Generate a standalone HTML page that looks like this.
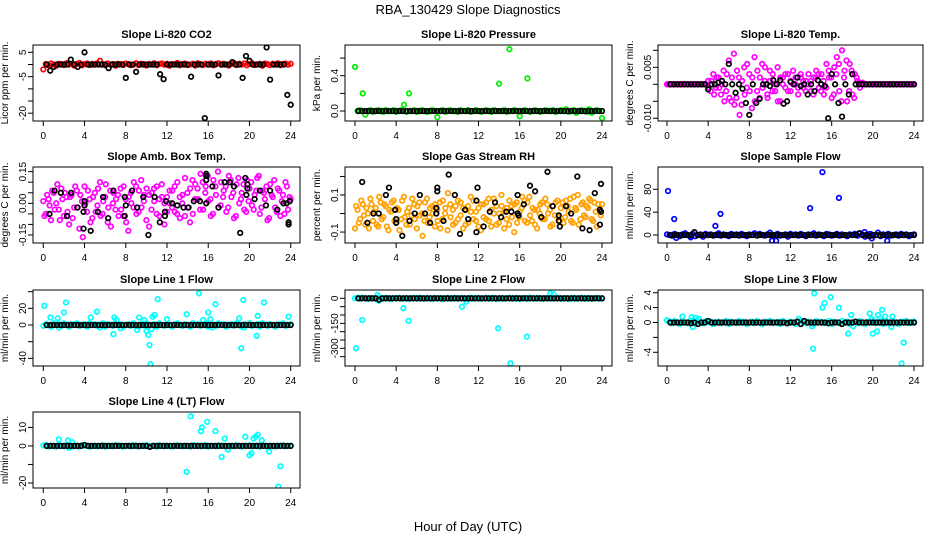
<!DOCTYPE html>
<html><head><meta charset="utf-8"><title>RBA_130429 Slope Diagnostics</title>
<style>
html,body{margin:0;padding:0;background:#fff;}
svg{display:block;font-family:"Liberation Sans",Arial,sans-serif;}
</style></head>
<body>
<svg id="chart" width="936" height="540" viewBox="0 0 936 540" xmlns="http://www.w3.org/2000/svg">
<rect x="0" y="0" width="936" height="540" fill="#fff"/>
<text x="468" y="14" text-anchor="middle" font-size="13">RBA_130429  Slope Diagnostics</text>
<text x="468" y="531" text-anchor="middle" font-size="13">Hour of Day (UTC)</text>
</svg>
<script>
// ---------- data (hours 0-24) ----------
const xTicks = [0,4,8,12,16,20,24];

// CO2 (ppm/min)
const co2Red = [-2,0.2,-0.3,0.4,0,-0.5,0.3,0.2,-0.2,0.5,0,0.3,-0.4,0.2,0.6,-0.3,0.1,0.4,-0.2,0.3,0,0.5,1.5,0.2,-0.3,0.4,0,0.2,-0.5,0.3,0.1,-0.2,0.4,0.2,-0.3,0,0.5,-0.2,0.3,0.1,-0.4,0.2,0,0.5,-0.3,0.2,0.4,-0.1,0.3,-0.5,0.2,0,0.6,-0.3,0.2,0.4,-0.2,0,0.3,-0.4,0.5,0.1,-0.2,0.3,0,0.4,-0.3,0.2,0.5,-0.1,0.3,0,-0.4,0.2,0.6,-0.2,0.3,0,0.4,-0.3,0.2,0.5,-0.2,0,0.3,-0.5,0.4,0.1,-0.2,0.3,0,0.5,-0.3,0.2,0.4,-0.1,0.3];
const co2Black = [0,-2.5,-1,0,0,0,0,2,0,-1,0,5, 0,0,0,0,0,0,-1.5,0,0,0,0,-5.5, 0,0,-3,0,0,0,0,0,0,-4,-6,0, 0,0,0,0,0,0,-5,0,0,0,-22,0, 0,0,-4.5,0,0,0,1,0,0,-5.5,3.5,1.5, 0,0,0,0,7,-6.2,0,0,0,0,-12.5,-16.5];

// Pressure (kPa/min)
const presGreen = [0.5,0,0.01,0.2,-0.04,0,0.01,-0.01,0,0.01, 0,-0.01,0.01,0,0,0.01,-0.01,0,0.01,0.07, -0.01,0.2,0,0.01,-0.01,0,0.01,0,-0.01,0, 0.01,0,-0.07,0,0.01,-0.01,0,0.01,0,0, -0.01,0.01,0,0,0.01,-0.01,0,0.01,0,-0.01, 0,0.01,0,-0.01,0.01,0,0.31,0,0.01,-0.01, 0.7,0,0.01,0,-0.06,0,0.01,0.37,-0.01,0, 0.01,0,-0.01,0,0.01,0,0,0.01,-0.01,0, 0.01,0,0.02,-0.01,0,0.01,-0.02,0,0.01,0, -0.01,0.02,-0.02,0,0.01,0,-0.08];
const presBlack = [0,0,0,0,0,0,0,0,0,0,0,0, 0,0,0,0,0,0,0,0,0,0,0,0, 0,0,0,0,0,0,0,0,0,0,0,0, 0,0,0,0,0,0,0,0,0,0,0,0, 0,0,0,0,0,0,0,0,0,0,0,0, 0,0,0,0,0,0,0,0,0,0,0,0];

// Li-820 temp (milli-degC/min)
const tempMagA = [0,0,0,0,0,0,0,0,0,0,0,0,0,0,0,0, 1,-2,3,-1,2,-3,4,-2,7,-5, 9,-4,2,-6,5,-1,3,-7,8,-2, -4,6,1,-3,4,-2,0,5,-5,2, -1,3,-2,4,0,-3,2,-1,1,3, -2,2,4,-1,3,-3,6,2,-4,5, 8,-2,10,4,-5,6,-3,3,1,-1,0.5, 0,0,0,0,0,0,0,0,0,0,0,0,0,0,0,0,0,0,0,0];
const tempMagB = [0,0,0,0,0,0,0,0,0,0,0,0,0,0,0,0, -1,1,-3,2,-1,0,-5,3,-4,2, -6,4,-9,1,-3,6,-2,2,-5,4, 2,-1,5,-4,1,3,-2,-5,2,0, 3,-2,1,0,2,-1,3,1,-2,0, 1,-3,2,3,-2,1,-1,4,2,-3, 3,6,-5,2,7,-2,4,-4,2,0.5,0, 0,0,0,0,0,0,0,0,0,0,0,0,0,0,0,0,0,0,0,0];
const tempBlack = [0,0,0,0,0,0,0,0,0,0,0,-1.5, 0,0,0.5,1,0,6,0,-2.5,0,-1.3,-5.5,-9, 0,-5.5,-4.3,0,0,-0.5,1.2,0,1.2,-5.7,-5,0.7, 0,2,-0.5,0,-3,0,-2,1.2,0,-0.5,-10,3, 0,-5.5,-9.5,0,-3,3,0,0,0,0,0,0, 0,0,0,0,0,0,0,0,0,0,0,0];

// Amb box temp (degC/min)
const ambMagA = [0.01,-0.05,0.02,-0.08,0.05,0.00,-0.03,0.07,-0.06,0.03, -0.10,0.04,-0.02,0.06,-0.12,0.01,0.08,-0.04,0.02,-0.07, 0.05,-0.01,0.10,-0.05,0.03,-0.09,0.06,0.00,-0.03,0.04, 0.07,-0.06,0.02,-0.13,0.05,-0.02,0.08,-0.04,0.11,0.01, -0.08,0.04,-0.03,0.07,-0.05,0.02,0.09,-0.10,0.03,0.00, 0.06,-0.04,0.10,-0.07,0.04,0.12,-0.02,0.07,-0.05,0.09, 0.02,0.14,-0.03,0.08,0.01,-0.06,0.11,0.04,-0.02,0.10, 0.06,-0.04,0.13,0.03,-0.07,0.09,0.00,0.05,-0.03,0.11, 0.07,-0.01,0.04,0.12,-0.05,0.06,0.02,-0.08,0.09,0.03, -0.02,0.07,-0.06,0.04,0.10,-0.03,0.02];
const ambMagB = [-0.06,0.04,-0.01,0.06,-0.03,0.09,-0.08,0.02,0.05,-0.04, 0.03,-0.07,0.08,-0.02,0.04,-0.16,0.00,0.06,-0.09,0.03, -0.04,0.07,-0.06,0.01,0.09,-0.02,-0.11,0.05,0.02,-0.06, -0.03,0.08,-0.09,0.03,0.00,0.10,-0.05,0.06,-0.02,0.04, 0.07,-0.11,0.05,0.01,0.08,-0.06,0.03,0.00,-0.04,0.06, -0.02,0.08,-0.05,0.03,0.00,-0.06,0.05,-0.09,0.11,0.02, 0.07,-0.03,0.10,0.05,0.13,0.02,-0.05,0.08,0.15,-0.01, 0.03,0.08,-0.02,0.11,0.05,-0.06,0.12,0.02,0.09,-0.04, 0.01,0.10,-0.03,0.06,0.13,-0.02,0.05,0.08,-0.07,0.04, 0.11,-0.04,0.06,0.01,-0.05,0.08,0.03];
const ambBlackX = [0.6,1.1,1.7,2.3,2.7,3.3,3.9,3.9,4.0,4.0,4.6,5.3,5.8,6.3,6.8,7.9,7.9,8.0,8.6,9.1,9.7,10.2,10.8,11.3,11.8,11.8,11.9,12.5,13.0,13.6,14.1,14.6,15.2,15.8,15.8,15.8,15.8,16.4,17.0,17.6,18.1,18.5,19.1,19.6,19.7,19.8,19.8,20.5,21.0,21.6,22.0,22.7,23.3,23.6,23.8,23.8,23.9];
const ambBlackY = [-0.05,0.06,0.05,-0.06,0.05,-0.02,-0.12,-0.04,-0.01,0.01,-0.13,-0.04,0.03,-0.07,0.06,0.03,-0.06,-0.01,0.06,-0.02,0.03,-0.15,0.03,-0.09,-0.06,-0.04,0.01,0,-0.01,-0.02,-0.02,0.01,0.01,0.14,0.13,0.11,0,0.08,-0.02,0.1,0.1,0.08,-0.14,0.12,0.04,0.09,0.07,0.02,0.06,-0.01,0.06,-0.03,0,0,-0.09,-0.1,0.01];

// Gas stream RH (%/min)
const rhCloudA = [-0.08,0.02,-0.03,0.05,-0.06,0.00,0.08,-0.04,0.03,-0.07, 0.06,-0.02,0.04,-0.09,0.01,0.07,-0.05,0.02,-0.03,0.09, -0.06,0.03,-0.01,0.05,-0.08,0.06,0.00,-0.04,0.08,-0.02, 0.04,-0.07,0.02,0.06,-0.03,0.00,-0.09,0.05,0.02,-0.05, 0.07,-0.01,0.03,-0.06,0.04,0.09,-0.03,0.01,-0.07,0.05, -0.02,0.06,-0.04,0.02,0.08,-0.06,0.00,0.04,-0.08,0.03, 0.07,-0.02,0.05,-0.05,0.01,0.09,-0.04,0.06,-0.01,0.03, -0.06,0.02,0.05,-0.03,0.08,0.00,-0.07,0.04,0.06,-0.02, 0.03,-0.05,0.07,0.01,-0.04,0.09,0.02,-0.06,0.05,-0.01, 0.04,0.08,-0.03,0.06,-0.07,0.02,0.05];
const rhCloudB = [0.04,-0.05,0.07,-0.01,0.03,-0.08,0.05,0.01,-0.06,0.09, -0.03,0.05,-0.07,0.02,0.06,-0.04,0.03,-0.09,0.07,-0.02, 0.01,-0.06,0.08,-0.03,0.04,-0.01,-0.12,0.06,-0.05,0.03, 0.00,0.05,-0.04,-0.08,0.07,0.03,0.11,-0.02,-0.06,0.04, -0.03,0.06,-0.08,0.02,-0.05,0.01,0.07,-0.04,0.03,-0.09, 0.05,-0.03,0.08,-0.07,0.00,0.04,-0.05,0.10,0.01,-0.03, -0.06,0.04,-0.10,0.06,-0.02,0.03,0.07,-0.05,0.09,-0.04, 0.02,-0.08,0.00,0.06,-0.03,0.05,0.02,-0.06,-0.01,0.07, -0.04,0.06,-0.02,0.04,0.08,-0.05,0.03,0.10,-0.03,0.06, -0.02,0.03,0.07,-0.04,0.01,0.05,-0.01];
const rhBlackX = [0.7,1.2,1.8,2.3,3.0,3.3,3.9,4.0,4.0,4.6,5.3,5.8,6.3,6.8,7.3,7.9,7.9,8.0,8.0,8.6,9.1,9.7,10.2,10.7,11.0,11.8,11.8,11.9,12.5,13.1,13.6,14.2,14.7,15.2,15.8,15.8,15.9,16.4,17.0,17.5,18.1,18.7,19.2,19.8,19.8,19.9,20.5,21.0,21.6,22.1,22.8,23.3,23.8,23.8,23.9,23.9];
const rhBlackY = [0.17,-0.05,0,0,0.1,0.14,0.02,-0.03,-0.05,-0.12,-0.04,0,0.1,0,-0.05,0,0.03,0.12,0.14,-0.04,0.21,0.1,-0.11,0.02,-0.03,-0.1,0.07,0.14,-0.07,0.01,0.06,-0.02,0.01,0.01,0.1,0,-0.01,0.05,0.15,0.12,-0.02,0.225,0.04,-0.01,-0.04,-0.07,0.04,0,0.2,-0.08,-0.09,0.11,-0.06,0.02,0.01,0.16];

// Sample flow (ml/min per min)
const sampleBlue = [1,0,-1,2,0,-2,1,3,0,-1, 2,-2,0,1,-3,2,0,1,-1,0, 3,-1,1,0,-2,2,0,1,-1,2, 0,-2,1,0,3,-1,2,0,-1,1, 4,-2,0,2,-1,0,1,-3,2,0, 1,-1,2,0,-2,1,0,3,-1,1, 0,-2,2,1,-1,0,2,-1,1,0, -2,1,0,2,-1,3,0,-3,1,2, -1,0,4,-2,1,0,2,-1,0,1, -1,2,0,1,-2,0,1];
const sampleOutX = [0.1,0.7,0.9,4.7,5.2,10.2,10.6,13.9,15.1,16.7,19.2,21.4,2.3,19.9];
const sampleOutY = [77,28,-5,16,37,-10,-10,47,110,65,5,-10,-4,-6];
const sampleBlack = [0,0,0,0,0,0,0,5,0,0,0,0, 0,0,0,0,0,0,0,0,0,0,0,0, 0,0,0,0,0,0,0,0,0,0,0,0, 0,0,0,0,0,0,0,0,0,0,0,0, 0,0,0,0,0,0,0,3,0,0,-2,0, 0,0,0,0,0,0,0,0,0,0,0,0];

// Line 1 flow
const line1Cyan = [-1,1,0,-2,2,0,1,-1,2,0, -2,1,0,2,-1,0,1,-2,2,0, 1,-1,0,2,-2,1,0,-1,2,0, 1,-2,0,1,-1,2,0,-2,1,0, 2,-1,0,1,-2,2,0,-1,1,0, -2,1,2,0,-1,1,0,-2,2,0, 1,-1,0,2,-2,1,0,-1,2,0, 1,-2,0,1,-1,2,0,-2,1,0, 2,-1,0,1,-2,2,0,-1,1,0, -2,1,0,2,-1,0,1];
const line1OutX = [0.1,0.7,1.4,1.5,2,2.2,4.6,5.2,5.5,6.8,6.9,7.1,7.5,9.1,9.3,9.8,10,10.2,10.4,10.5,10.6,10.8,11.1,12,13.9,15.1,15.5,16,16.2,16.4,16.7,19,19.2,19.4,19.5,20.7,20.8,21.4,23.8,10.3];
const line1OutY = [23,9,8,-3,15,27,9,16,-3,-11,9,6,-4,-6,9,6,-7,-12,-47,-5,10,12,31,7,13,38,6,15,7,-3,25,8,-28,30,-3,-13,11,27,10,-24];
const line1Black = [0,0,0,0,0,0,0,0,0,0,0,0, 0,0,0,0,0,0,0,0,0,0,0,0, 0,0,0,0,0,0,0,0,0,0,0,0, 0,0,0,0,0,0,0,0,0,0,0,0, 0,0,0,0,0,0,0,0,0,0,0,0, 0,0,0,0,0,0,0,0,0,0,0,0];

// Line 2 flow
const line2Cyan = [0,3,-2,5,0,-4,2,0,-3,4, 0,-2,3,0,-5,2,0,4,-3,0, 2,-4,0,3,-2,5,0,-3,2,0, -4,3,0,2,-5,0,3,-2,0,4, -3,0,2,-4,0,5,-2,0,3,-3, 0,4,-2,0,3,-5,0,2,-3,0, 4,-2,0,3,-4,0,2,-3,5,0, -2,3,0,-4,2,0,3,-2,0,4, -3,0,2,-5,0,3,-2,0,4,-3, 0,2,-4,0,3,-2,0];
const line2OutX = [0.1,0.7,4.7,5.2,10.4,10.8,13.9,15.1,16.7,19,19.3,2.2,2.3];
const line2OutY = [-300,-130,-60,-135,-50,-20,-180,-390,-230,30,25,20,-15];
const line2Black = [0,0,0,0,0,0,-8,0,0,0,0,0, 0,0,0,0,0,0,0,0,0,0,0,0, 0,0,0,0,0,0,0,0,0,0,0,0, 0,0,0,0,0,0,0,0,0,0,0,0, 0,0,0,0,0,0,0,0,0,0,0,0, 0,0,0,0,0,0,0,0,0,0,0,0];

// Line 3 flow
const line3Cyan = [0.3,0.1,-0.1,0.2,0,-0.2,0.1,0,-0.1,0.2, 0.3,-0.2,0.1,0,-0.1,0.2,0,0.1,-0.2,0, 0.1,-0.1,0,0.2,-0.2,0.1,0,-0.1,0.2,0, 0.1,-0.2,0,0.1,-0.1,0.2,0,-0.2,0.1,0, 0.2,-0.1,0,0.1,-0.2,0.2,0,-0.1,0.1,0, -0.2,0.1,0.2,0,-0.1,0.1,0,-0.2,0.2,0, 0.1,-0.1,0,0.2,-0.2,0.1,0,-0.1,0.2,0, 0.1,-0.2,0,0.1,-0.1,0.2,0,-0.2,0.1,0, 0.2,-0.1,0,0.1,-0.2,0.2,0,-0.1,0.1,0, -0.2,0.1,0,0.2,-0.1,0,0.1];
const line3OutX = [0,1.5,2.4,2.5,2.8,3.1,12.8,14.1,14.2,14.3,15.1,15.3,15.9,16.7,17.6,17.9,18.1,19.7,19.9,20,20.4,20.5,20.7,20.9,21.2,21.8,21.9,22.8,23];
const line3OutY = [0.3,0.8,0.7,-0.6,0.6,0.5,0.5,-0.5,-3.5,3.9,2,2.6,3.4,2,-1.5,1,-0.5,1.2,0.5,-1.5,-1.2,1,0.5,1.7,0.8,-0.6,0.8,-5.5,-2.7];
const line3Black = [0,0,0,0,0,0,-0.1,0,-0.2,0,0,0.2, 0,0,0,0,0,0,0,0,0,0,0,0, 0,0,0,0,0,0,0,0,0,0,-0.1,0, 0,0.1,-0.2,0.2,0,0,0,0,0,0,-0.1,0, 0,0,-0.2,0,0,0,0.1,0,0,0,0,0, 0,0,0,0,0,0,0,0,0,0,0,0];

// Line 4 (LT) flow
const line4Cyan = [0.3,0.5,-0.3,0.2,0,-0.5,0.4,0.2,-0.2,0.5, 0.6,-0.4,0.2,0,-0.3,0.4,0,0.2,-0.4,0, 0.2,-0.2,0,0.4,-0.4,0.2,0,-0.2,0.4,0, 0.2,-0.4,0,0.2,-0.2,0.4,0,-0.4,0.2,0, 0.4,-0.2,0,0.2,-0.4,0.4,0,-0.2,0.2,0, -0.4,0.2,0.4,0,-0.2,0.2,0,-0.4,0.4,0, 0.2,-0.2,0,0.4,-0.4,0.2,0,-0.2,0.4,0, 0.2,-0.4,0,0.2,-0.2,0.4,0,-0.4,0.2,0, 0.4,-0.2,0,0.2,-0.4,0.4,0,-0.2,0.2,0, -0.4,0.2,0,0.4,-0.2,0,0.2];
const line4OutX = [1.5,2.4,2.5,2.8,13.9,14.3,15.3,15.4,15.9,16.7,17.3,17.6,17.9,19.6,20.0,20.2,20.4,20.6,20.8,21.2,21.9,22.8,23.0];
const line4OutY = [3.5,3,-1,2,-14,16,8,10,13,8,-6,4,-2,5,-5,-4,4,5,6,3,-3,-22,-11];
const line4Black = [0,0,0,0,0,0,0,0,0,0,0,0.5, 0,0,0,0,0,0,0,0,0,0,0,0, 0,0,0,0,0,0,-0.5,0,0,0,0,0, 0,0,0,0,0,0,0,0,0,0,0,0, 0,0,0,0,0,0,0,0,0,0,0,0, 0,0,0,0,0,0,0,0,0,0,0,0];

// ---------- layout ----------
const colX = [{l:33,r:300,x0:43.3,x1:290.7},{l:345,r:612,x0:355,x1:602},{l:658,r:923,x0:667,x1:914}];
const rowY = [{t:45,b:121},{t:167,b:243},{t:290,b:366},{t:412,b:488}];
const RED='#ff0000', GREEN='#00ee00', MAG='#ff00ff', ORANGE='#ffa000', BLUE='#0000ff', CYAN='#00ffff', BLK='#000000';
const PR = 2.3;

const panels = [
 {name:'co2',title:'Slope Li-820 CO2',ylab:'Licor ppm per min.',c:0,r:0,ymin:-23.2,ymax:8,ticks:[5,0,-5,-10,-15,-20],labels:{'5':'5','-5':'-5','-20':'-20'},
  series:[{g:co2Red,col:RED,x0:0,x1:24},{g:co2Black,col:BLK,x0:1/3,x1:24}]},
 {name:'pressure',title:'Slope Li-820 Pressure',ylab:'kPa per min.',c:1,r:0,ymin:-0.113,ymax:0.748,ticks:[0,0.2,0.4,0.6],labels:{'0':'0.0','0.4':'0.4'},
  series:[{g:presGreen,col:GREEN,x0:0,x1:24},{g:presBlack,col:BLK,x0:1/3,x1:24}]},
 {name:'li820-temp',title:'Slope Li-820 Temp.',ylab:'degrees C per min.',c:2,r:0,ymin:-10.8,ymax:11.56,ticks:[10,5,0,-5,-10],labels:{'5':'0.005','-10':'-0.010'},
  series:[{g:tempMagA,col:MAG,x0:0,x1:24},{g:tempMagB,col:MAG,x0:0.12,x1:23.88},{g:tempBlack,col:BLK,x0:1/3,x1:24}]},
 {name:'amb-box-temp',title:'Slope Amb. Box Temp.',ylab:'degrees C per min.',c:0,r:1,ymin:-0.188,ymax:0.172,ticks:[0.15,0.1,0.05,0,-0.05,-0.1,-0.15],labels:{'0.15':'0.15','0':'0.00','-0.15':'-0.15'},
  series:[{g:ambMagA,col:MAG,x0:0,x1:24},{g:ambMagB,col:MAG,x0:0.12,x1:23.88},{px:ambBlackX,py:ambBlackY,col:BLK}]},
 {name:'gas-stream-rh',title:'Slope Gas Stream RH',ylab:'percent per min.',c:1,r:1,ymin:-0.159,ymax:0.251,ticks:[0.2,0.1,0,-0.1],labels:{'0.1':'0.1','-0.1':'-0.1'},
  series:[{g:rhCloudA,col:ORANGE,x0:0,x1:24},{g:rhCloudB,col:ORANGE,x0:0.12,x1:23.88},{px:rhBlackX,py:rhBlackY,col:BLK}]},
 {name:'sample-flow',title:'Slope Sample Flow',ylab:'ml/min per min.',c:2,r:1,ymin:-14,ymax:119,ticks:[0,40,80],labels:{'0':'0','40':'40','80':'80'},
  series:[{g:sampleBlue,col:BLUE,x0:0,x1:24},{px:sampleOutX,py:sampleOutY,col:BLUE},{g:sampleBlack,col:BLK,x0:1/3,x1:24}]},
 {name:'line1-flow',title:'Slope Line 1 Flow',ylab:'ml/min per min.',c:0,r:2,ymin:-49.2,ymax:42,ticks:[40,20,0,-20,-40],labels:{'20':'20','0':'0','-40':'-40'},
  series:[{g:line1Cyan,col:CYAN,x0:0,x1:24},{px:line1OutX,py:line1OutY,col:CYAN},{g:line1Black,col:BLK,x0:1/3,x1:24}]},
 {name:'line2-flow',title:'Slope Line 2 Flow',ylab:'ml/min per min.',c:1,r:2,ymin:-406,ymax:50,ticks:[0,-50,-100,-150,-200,-250,-300,-350],labels:{'0':'0','-150':'-150','-300':'-300'},
  series:[{g:line2Cyan,col:CYAN,x0:0,x1:24},{px:line2OutX,py:line2OutY,col:CYAN},{g:line2Black,col:BLK,x0:1/3,x1:24}]},
 {name:'line3-flow',title:'Slope Line 3 Flow',ylab:'ml/min per min.',c:2,r:2,ymin:-5.84,ymax:4.36,ticks:[4,2,0,-2,-4],labels:{'4':'4','2':'2','0':'0','-4':'-4'},
  series:[{g:line3Cyan,col:CYAN,x0:0,x1:24},{px:line3OutX,py:line3OutY,col:CYAN},{g:line3Black,col:BLK,x0:1/3,x1:24}]},
 {name:'line4-flow',title:'Slope Line 4 (LT) Flow',ylab:'ml/min per min.',c:0,r:3,ymin:-22.7,ymax:18.3,ticks:[10,0,-10,-20],labels:{'10':'10','0':'0','-20':'-20'},
  series:[{g:line4Cyan,col:CYAN,x0:0,x1:24},{px:line4OutX,py:line4OutY,col:CYAN},{g:line4Black,col:BLK,x0:1/3,x1:24}]}
];

const NS='http://www.w3.org/2000/svg';
const svg=document.getElementById('chart');
function mk(tag,attrs,parent){const e=document.createElementNS(NS,tag);for(const k in attrs)e.setAttribute(k,attrs[k]);(parent||svg).appendChild(e);return e;}

panels.forEach((p,pi)=>{
  const C=colX[p.c], R=rowY[p.r];
  const xs=v=>C.x0+(v/24)*(C.x1-C.x0);
  const ys=v=>R.b-(v-p.ymin)/(p.ymax-p.ymin)*(R.b-R.t);
  const g=mk('g',{});
  
  
  const cp=mk('clipPath',{id:'clip'+pi},g);
  mk('rect',{x:C.l,y:R.t,width:C.r-C.l,height:R.b-R.t},cp);
  const t=mk('text',{x:(C.l+C.r)/2,y:R.t-7,'text-anchor':'middle','font-size':'11','font-weight':'bold'},g);
  t.textContent=p.title;
  
  
  const pg=mk('g',{'clip-path':'url(#clip'+pi+')',fill:'none','stroke-width':'1.7'},g);
  
  
  p.series.forEach(s=>{
    if(s.g){
      const n=s.g.length;
      s.g.forEach((v,i)=>{
        const hx=s.x0+i*(s.x1-s.x0)/(n-1);
        const c=mk('circle',{cx:xs(hx).toFixed(1),cy:ys(v).toFixed(1),r:PR,stroke:s.col},pg);
        
        
      });
    } else {
      s.px.forEach((hx,i)=>{
        const c=mk('circle',{cx:xs(hx).toFixed(1),cy:ys(s.py[i]).toFixed(1),r:PR,stroke:s.col},pg);
        
        
      });
    }
  });
  const box=mk('rect',{x:C.l,y:R.t,width:C.r-C.l,height:R.b-R.t,fill:'none',stroke:'#000','stroke-width':'1'},g);
  
  
  const xa=mk('g',{stroke:'#000','stroke-width':'1'},g);
  
  
  mk('line',{x1:xs(xTicks[0]),y1:R.b,x2:xs(xTicks[xTicks.length-1]),y2:R.b},xa);
  xTicks.forEach(v=>{
    mk('line',{x1:xs(v),y1:R.b,x2:xs(v),y2:R.b+5},xa);
    const tl=mk('text',{x:xs(v),y:R.b+18,'text-anchor':'middle','font-size':'10',stroke:'none',fill:'#000'},xa);
    tl.textContent=String(v);
    
    
  });
  const ya=mk('g',{stroke:'#000','stroke-width':'1'},g);
  
  
  const tmin=Math.min(...p.ticks), tmax=Math.max(...p.ticks);
  mk('line',{x1:C.l,y1:ys(tmin),x2:C.l,y2:ys(tmax)},ya);
  p.ticks.forEach(v=>{
    const y=ys(v);
    mk('line',{x1:C.l-5,y1:y,x2:C.l,y2:y},ya);
    const lab=p.labels[String(v)];
    if(lab!==undefined){
      const tx=C.l-7;
      const tl=mk('text',{x:tx,y:y,'text-anchor':'middle','font-size':'10',stroke:'none',fill:'#000',transform:'rotate(-90 '+tx+' '+y+')'},ya);
      tl.textContent=lab;
      
      
    }
  });
  const lx=C.l-25, ly=(R.t+R.b)/2;
  const yl=mk('text',{x:lx,y:ly,'text-anchor':'middle','font-size':'10',transform:'rotate(-90 '+lx+' '+ly+')'},g);
  yl.textContent=p.ylab;
  
  
});
</script>
</body></html>
